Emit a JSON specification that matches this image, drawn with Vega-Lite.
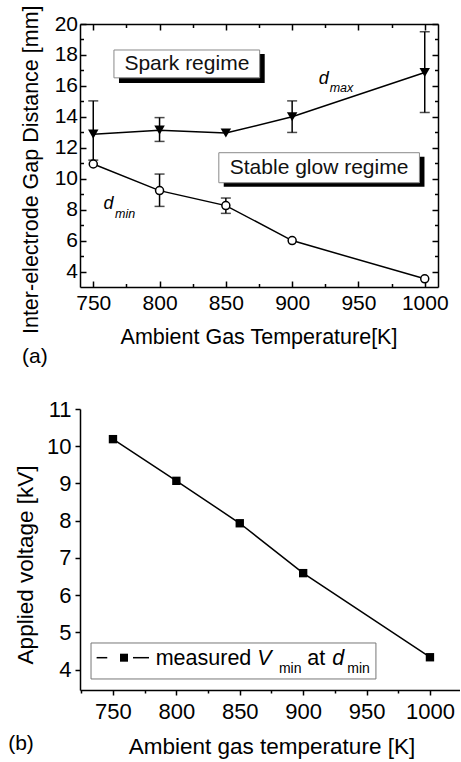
{
  "$schema": "https://vega.github.io/schema/vega-lite/v6.json",
  "padding": {"left": 8, "top": 5, "right": 0, "bottom": 0},
  "background": "white",
  "spacing": 31,
  "columns": 1,
  "align": "none",
  "config": {
    "font": "Liberation Sans",
    "view": {"stroke": null},
    "axis": {"domainColor": "black", "tickColor": "black", "labelColor": "black", "titleColor": "black", "domainWidth": 1.5, "tickWidth": 1.5, "grid": false, "titleFontWeight": "normal", "labelFontSize": 21}
  },
  "concat": [
    {
      "width": 358,
      "height": 263,
      "resolve": {"axis": {"x": "independent", "y": "independent"}},
      "layer": [
        {
          "data": {"values": [
            {"x1": 769.4, "x2": 879.3, "y1": 18.06, "y2": 16.19},
            {"x1": 848.4, "x2": 999.8, "y1": 11.42, "y2": 9.48}
          ]},
          "mark": {"type": "rect", "color": "black"},
          "encoding": {
            "x": {"field": "x1", "type": "quantitative", "scale": {"domain": [740, 1010], "nice": false, "zero": false}, "axis": null},
            "x2": {"field": "x2"},
            "y": {"field": "y1", "type": "quantitative", "scale": {"domain": [3, 20], "nice": false, "zero": false}, "axis": null},
            "y2": {"field": "y2"}
          }
        },
        {
          "data": {"values": [
            {"x1": 765.6, "x2": 875.5, "y1": 18.32, "y2": 16.52},
            {"x1": 844.7, "x2": 996.0, "y1": 11.68, "y2": 9.74}
          ]},
          "mark": {"type": "rect", "fill": "white", "stroke": "#8a8a8a", "strokeWidth": 1},
          "encoding": {
            "x": {"field": "x1", "type": "quantitative", "axis": null},
            "x2": {"field": "x2"},
            "y": {"field": "y1", "type": "quantitative", "axis": null},
            "y2": {"field": "y2"}
          }
        },
        {
          "data": {"values": [
            {"x": 820.6, "y": 17.42, "label": "Spark regime"},
            {"x": 920.3, "y": 10.71, "label": "Stable glow regime"}
          ]},
          "mark": {"type": "text", "fontSize": 21, "color": "#111", "align": "center", "baseline": "middle"},
          "encoding": {
            "x": {"field": "x", "type": "quantitative", "axis": null},
            "y": {"field": "y", "type": "quantitative", "axis": null},
            "text": {"field": "label"}
          }
        },
        {
          "data": {"name": "gap", "values": [
            {"T": 750, "series": "dmax", "d": 12.88, "lo": 11.2, "hi": 15.03},
            {"T": 800, "series": "dmax", "d": 13.14, "lo": 12.41, "hi": 13.95},
            {"T": 850, "series": "dmax", "d": 12.95, "lo": null, "hi": null},
            {"T": 900, "series": "dmax", "d": 14.0, "lo": 12.99, "hi": 15.03},
            {"T": 1000, "series": "dmax", "d": 16.86, "lo": 14.28, "hi": 19.5},
            {"T": 750, "series": "dmin", "d": 10.95, "lo": null, "hi": null},
            {"T": 800, "series": "dmin", "d": 9.23, "lo": 8.21, "hi": 10.3},
            {"T": 850, "series": "dmin", "d": 8.26, "lo": 7.76, "hi": 8.75},
            {"T": 900, "series": "dmin", "d": 6.0, "lo": null, "hi": null},
            {"T": 1000, "series": "dmin", "d": 3.53, "lo": null, "hi": null}
          ]},
          "mark": {"type": "line", "color": "black", "strokeWidth": 1.5},
          "encoding": {
            "x": {"field": "T", "type": "quantitative", "axis": {"orient": "top", "values": [750, 775, 800, 825, 850, 875, 900, 925, 950, 975, 1000], "labels": false, "title": null, "tickSize": {"condition": {"test": "datum.value % 50 === 0", "value": -6}, "value": -3.5}}},
            "y": {"field": "d", "type": "quantitative", "axis": {"orient": "right", "values": [4, 5, 6, 7, 8, 9, 10, 11, 12, 13, 14, 15, 16, 17, 18, 19, 20], "labels": false, "title": null, "tickSize": {"condition": {"test": "datum.value % 2 === 0", "value": -6}, "value": -3.5}}},
            "detail": {"field": "series"}
          }
        },
        {
          "data": {"name": "gap"},
          "mark": {"type": "rule", "color": "black", "strokeWidth": 1.5},
          "encoding": {
            "x": {"field": "T", "type": "quantitative", "axis": null},
            "y": {"field": "lo", "type": "quantitative", "axis": null},
            "y2": {"field": "hi"}
          }
        },
        {
          "data": {"name": "gap"},
          "mark": {"type": "tick", "color": "black", "orient": "horizontal", "size": 10, "thickness": 1.5},
          "encoding": {
            "x": {"field": "T", "type": "quantitative", "axis": null},
            "y": {"field": "lo", "type": "quantitative", "axis": null}
          }
        },
        {
          "data": {"name": "gap"},
          "mark": {"type": "tick", "color": "black", "orient": "horizontal", "size": 10, "thickness": 1.5},
          "encoding": {
            "x": {"field": "T", "type": "quantitative", "axis": null},
            "y": {"field": "hi", "type": "quantitative", "axis": null}
          }
        },
        {
          "data": {"name": "gap"},
          "transform": [{"filter": "datum.series === 'dmin'"}],
          "mark": {"type": "point", "shape": "circle", "filled": true, "fill": "white", "stroke": "black", "strokeWidth": 1.5, "size": 64, "opacity": 1},
          "encoding": {
            "x": {"field": "T", "type": "quantitative", "axis": null},
            "y": {"field": "d", "type": "quantitative", "axis": null}
          }
        },
        {
          "data": {"name": "gap"},
          "transform": [{"filter": "datum.series === 'dmax'"}],
          "mark": {"type": "point", "shape": "triangle-down", "filled": true, "color": "black", "size": 110, "opacity": 1},
          "encoding": {
            "x": {"field": "T", "type": "quantitative", "axis": {
              "orient": "bottom", "values": [750, 775, 800, 825, 850, 875, 900, 925, 950, 975, 1000], "format": "d",
              "labelExpr": "datum.value % 50 === 0 ? datum.label : ''",
              "tickSize": {"condition": {"test": "datum.value % 50 === 0", "value": -6}, "value": -3.5},
              "labelPadding": 11, "labelFontSize": 21, "labelFlush": false, "labelOverlap": false,
              "title": null
            }},
            "y": {"field": "d", "type": "quantitative", "axis": {
              "orient": "left", "values": [4, 5, 6, 7, 8, 9, 10, 11, 12, 13, 14, 15, 16, 17, 18, 19, 20], "format": "d",
              "labelExpr": "datum.value % 2 === 0 ? datum.label : ''",
              "tickSize": {"condition": {"test": "datum.value % 2 === 0", "value": -6}, "value": -3.5},
              "labelPadding": 8.5, "labelFontSize": 21, "labelFlush": false, "labelOverlap": false,
              "title": null
            }}
          }
        },
        {
          "data": {"values": [{"x": 695.8, "y": 10.58, "label": "Inter-electrode Gap Distance [mm]"}]},
          "mark": {"type": "text", "fontSize": 21.5, "angle": 270, "color": "black", "align": "center", "baseline": "top"},
          "encoding": {
            "x": {"field": "x", "type": "quantitative", "axis": null},
            "y": {"field": "y", "type": "quantitative", "axis": null},
            "text": {"field": "label"}
          }
        },
        {
          "data": {"values": [{"x": 875, "y": -0.653, "label": "Ambient Gas Temperature[K]"}]},
          "mark": {"type": "text", "fontSize": 21.5, "color": "black", "align": "center", "baseline": "alphabetic"},
          "encoding": {
            "x": {"field": "x", "type": "quantitative", "axis": null},
            "y": {"field": "y", "type": "quantitative", "axis": null},
            "text": {"field": "label"}
          }
        },
        {
          "data": {"values": [
            {"x": 920.0, "y": 16.13, "label": "d"},
            {"x": 757.8, "y": 8.06, "label": "d"}
          ]},
          "mark": {"type": "text", "fontSize": 18, "fontStyle": "italic", "color": "black", "align": "left", "baseline": "alphabetic"},
          "encoding": {
            "x": {"field": "x", "type": "quantitative", "axis": null},
            "y": {"field": "y", "type": "quantitative", "axis": null},
            "text": {"field": "label"}
          }
        },
        {
          "data": {"values": [
            {"x": 928.3, "y": 15.61, "label": "max"},
            {"x": 766.4, "y": 7.48, "label": "min"}
          ]},
          "mark": {"type": "text", "fontSize": 12.5, "fontStyle": "italic", "color": "black", "align": "left", "baseline": "alphabetic"},
          "encoding": {
            "x": {"field": "x", "type": "quantitative", "axis": null},
            "y": {"field": "y", "type": "quantitative", "axis": null},
            "text": {"field": "label"}
          }
        },
        {
          "data": {"values": [{"x": 696.3, "y": -1.91, "label": "(a)"}]},
          "mark": {"type": "text", "fontSize": 21, "color": "black", "align": "left", "baseline": "alphabetic"},
          "encoding": {
            "x": {"field": "x", "type": "quantitative", "axis": null},
            "y": {"field": "y", "type": "quantitative", "axis": null},
            "text": {"field": "label"}
          }
        }
      ]
    },
    {
      "width": 380,
      "height": 281,
      "resolve": {"axis": {"x": "independent", "y": "independent"}},
      "layer": [
        {
          "data": {"values": [{"x1": 732.7, "x2": 957.4, "y1": 4.713, "y2": 3.746}]},
          "mark": {"type": "rect", "fill": "white", "stroke": "#777", "strokeWidth": 1},
          "encoding": {
            "x": {"field": "x1", "type": "quantitative", "scale": {"domain": [724, 1023.7], "nice": false, "zero": false}, "axis": null},
            "x2": {"field": "x2"},
            "y": {"field": "y1", "type": "quantitative", "scale": {"domain": [3.45, 11], "nice": false, "zero": false}, "axis": null},
            "y2": {"field": "y2"}
          }
        },
        {
          "data": {"values": [
            {"x1": 737.1, "x2": 745.5, "y": 4.318},
            {"x1": 765.8, "x2": 778.4, "y": 4.318}
          ]},
          "mark": {"type": "rule", "color": "black", "strokeWidth": 1.5},
          "encoding": {
            "x": {"field": "x1", "type": "quantitative", "axis": null},
            "x2": {"field": "x2"},
            "y": {"field": "y", "type": "quantitative", "axis": null}
          }
        },
        {
          "data": {"values": [{"x": 758.7, "y": 4.318}]},
          "mark": {"type": "point", "shape": "square", "filled": true, "color": "black", "size": 64, "opacity": 1},
          "encoding": {
            "x": {"field": "x", "type": "quantitative", "axis": null},
            "y": {"field": "y", "type": "quantitative", "axis": null}
          }
        },
        {
          "data": {"values": [
            {"x": 783.7, "y": 4.12, "label": "measured"},
            {"x": 903.3, "y": 4.12, "label": "at"}
          ]},
          "mark": {"type": "text", "fontSize": 21.5, "color": "black", "align": "left", "baseline": "alphabetic"},
          "encoding": {
            "x": {"field": "x", "type": "quantitative", "axis": null},
            "y": {"field": "y", "type": "quantitative", "axis": null},
            "text": {"field": "label"}
          }
        },
        {
          "data": {"values": [
            {"x": 863.8, "y": 4.12, "label": "V"},
            {"x": 923.0, "y": 4.12, "label": "d"}
          ]},
          "mark": {"type": "text", "fontSize": 21.5, "fontStyle": "italic", "color": "black", "align": "left", "baseline": "alphabetic"},
          "encoding": {
            "x": {"field": "x", "type": "quantitative", "axis": null},
            "y": {"field": "y", "type": "quantitative", "axis": null},
            "text": {"field": "label"}
          }
        },
        {
          "data": {"values": [
            {"x": 880.9, "y": 3.907, "label": "min"},
            {"x": 934.8, "y": 3.907, "label": "min"}
          ]},
          "mark": {"type": "text", "fontSize": 14, "color": "black", "align": "left", "baseline": "alphabetic"},
          "encoding": {
            "x": {"field": "x", "type": "quantitative", "axis": null},
            "y": {"field": "y", "type": "quantitative", "axis": null},
            "text": {"field": "label"}
          }
        },
        {
          "data": {"name": "volt", "values": [
            {"T": 750, "V": 10.19},
            {"T": 800, "V": 9.07},
            {"T": 850, "V": 7.93},
            {"T": 900, "V": 6.59},
            {"T": 1000, "V": 4.33}
          ]},
          "mark": {"type": "line", "color": "black", "strokeWidth": 1.5},
          "encoding": {
            "x": {"field": "T", "type": "quantitative", "axis": null},
            "y": {"field": "V", "type": "quantitative", "axis": null}
          }
        },
        {
          "data": {"name": "volt"},
          "mark": {"type": "point", "shape": "square", "filled": true, "color": "black", "size": 70, "opacity": 1},
          "encoding": {
            "x": {"field": "T", "type": "quantitative", "axis": {
              "orient": "bottom", "values": [725, 750, 775, 800, 825, 850, 875, 900, 925, 950, 975, 1000], "format": "d",
              "labelExpr": "datum.value % 50 === 0 ? datum.label : ''",
              "tickSize": {"condition": {"test": "datum.value % 50 === 0", "value": 5}, "value": 3},
              "labelPadding": 6, "labelFontSize": 22, "labelFlush": false, "labelOverlap": false,
              "title": null
            }},
            "y": {"field": "V", "type": "quantitative", "axis": {
              "orient": "left", "values": [4, 4.5, 5, 5.5, 6, 6.5, 7, 7.5, 8, 8.5, 9, 9.5, 10, 10.5, 11], "format": "d",
              "labelExpr": "datum.value % 1 === 0 ? datum.label : ''",
              "tickSize": {"condition": {"test": "datum.value % 1 === 0", "value": 5}, "value": 3},
              "labelPadding": 4, "labelFontSize": 22, "labelFlush": false, "labelOverlap": false,
              "title": null
            }}
          }
        },
        {
          "data": {"values": [{"x": 672.97, "y": 6.81, "label": "Applied voltage [kV]"}]},
          "mark": {"type": "text", "fontSize": 22.5, "angle": 270, "color": "black", "align": "center", "baseline": "top"},
          "encoding": {
            "x": {"field": "x", "type": "quantitative", "axis": null},
            "y": {"field": "y", "type": "quantitative", "axis": null},
            "text": {"field": "label"}
          }
        },
        {
          "data": {"values": [{"x": 875.4, "y": 1.73, "label": "Ambient gas temperature [K]"}]},
          "mark": {"type": "text", "fontSize": 22.5, "color": "black", "align": "center", "baseline": "alphabetic"},
          "encoding": {
            "x": {"field": "x", "type": "quantitative", "axis": null},
            "y": {"field": "y", "type": "quantitative", "axis": null},
            "text": {"field": "label"}
          }
        },
        {
          "data": {"values": [{"x": 667.35, "y": 1.838, "label": " (b)"}]},
          "mark": {"type": "text", "fontSize": 21, "color": "black", "align": "left", "baseline": "alphabetic"},
          "encoding": {
            "x": {"field": "x", "type": "quantitative", "axis": null},
            "y": {"field": "y", "type": "quantitative", "axis": null},
            "text": {"field": "label"}
          }
        }
      ]
    }
  ]
}
